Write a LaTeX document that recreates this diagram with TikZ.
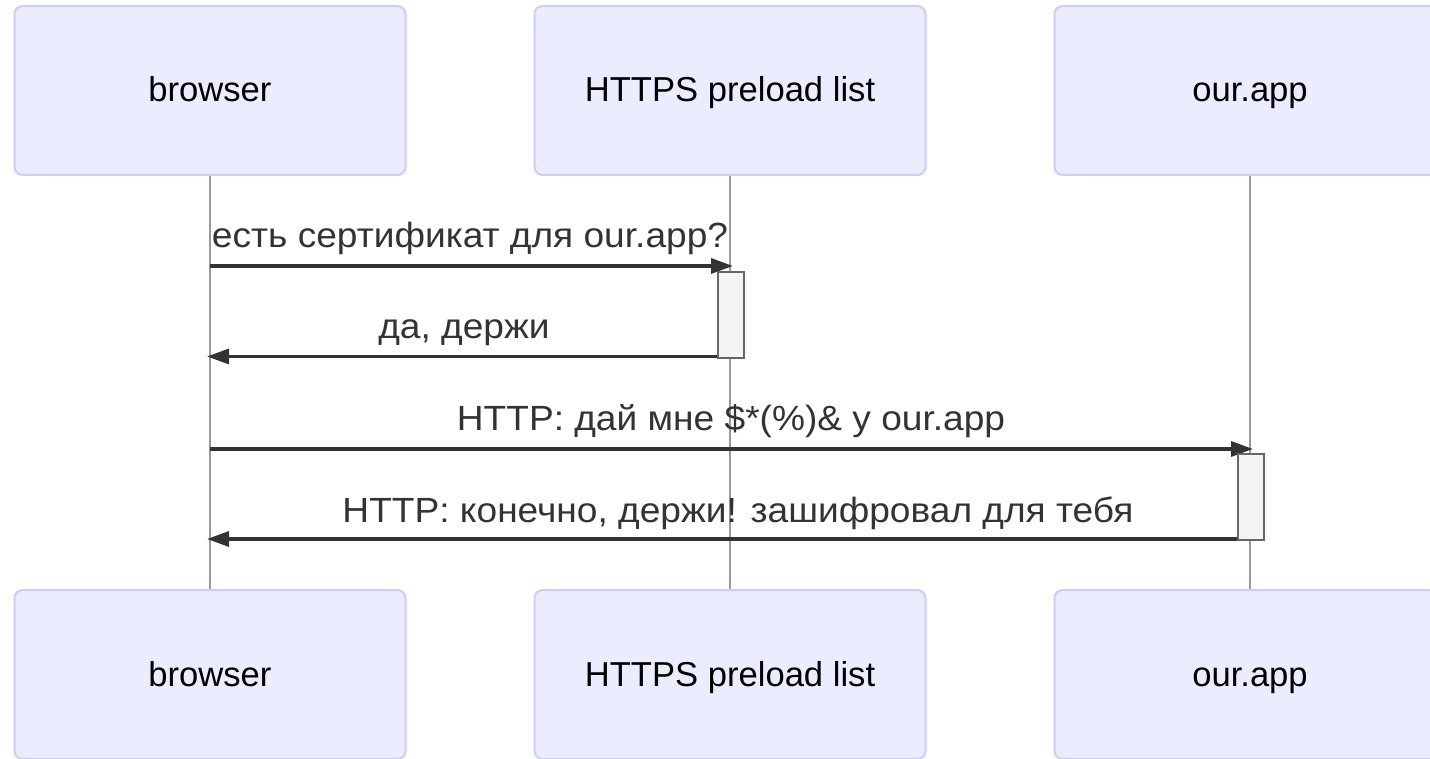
\documentclass[tikz,border=0pt]{standalone}
\usepackage{fontspec}
\setmainfont{Liberation Sans}
\newfontfamily\msgfont[FakeStretch=1.06]{Liberation Sans}
\usetikzlibrary{arrows.meta}
\definecolor{actorfill}{HTML}{ECECFF}
\definecolor{actorline}{HTML}{CCCCFF}
\definecolor{msgcol}{HTML}{333333}
\definecolor{lifecol}{HTML}{999999}
\definecolor{actfill}{HTML}{F4F4F4}
\definecolor{actline}{HTML}{666666}
\tikzset{
  actor/.style={draw=actorline, fill=actorfill, line width=2pt, rounded corners=8pt,
    minimum width=391pt, minimum height=169pt, inner sep=0pt,
    font=\fontsize{34.6}{40}\selectfont, text=black, text height=25pt, text depth=2pt},
  lifeline/.style={draw=lifecol, line width=1.3pt},
  msg/.style={draw=msgcol, line width=3.3pt, -{Triangle[length=22pt,width=15pt]}},
  msglabel/.style={anchor=base, inner sep=0pt, text=msgcol, font=\msgfont\fontsize{35}{40}\selectfont},
  activation/.style={draw=actline, fill=actfill, line width=2.4pt, inner sep=0pt,
    minimum width=26pt, anchor=north}
}
\begin{document}
\begin{tikzpicture}[x=1pt,y=-1pt]
  \useasboundingbox (0,0) rectangle (1430,759);
  \clip (0,0) rectangle (1430,759);

  % participants, top row
  \node[actor] (bt) at (210,90.5)  {browser};
  \node[actor] (ht) at (730,90.5)  {HTTPS preload list};
  \node[actor] (at) at (1250,90.5) {our.app};
  % participants, bottom row
  \node[actor] (bb) at (210,674.5)  {browser};
  \node[actor] (hb) at (730,674.5)  {HTTPS preload list};
  \node[actor] (ab) at (1250,674.5) {our.app};

  % lifelines
  \draw[lifeline] (bt.south) -- (bb.north);
  \draw[lifeline] (ht.south) -- (hb.north);
  \draw[lifeline] (at.south) -- (ab.north);

  % message end points
  \coordinate (m1s) at (210,266);
  \coordinate (m1e) at (733,266);
  \coordinate (m2s) at (718,356.5);
  \coordinate (m2e) at (207,356.5);
  \coordinate (m3s) at (210,449);
  \coordinate (m3e) at (1253,449);
  \coordinate (m4s) at (1238,539);
  \coordinate (m4e) at (207,539);

  % messages
  \draw[msg] (m1s) -- (m1e);
  \node[msglabel] (l1) at (470,248) {есть сертификат для our.app?};
  \draw[msg] (m2s) -- (m2e);
  \node[msglabel] (l2) at (464,338) {да, держи};
  \draw[msg] (m3s) -- (m3e);
  \node[msglabel] (l3) at (731,430) {HTTP: дай мне \$*(\%)\& у our.app};
  \draw[msg] (m4s) -- (m4e);
  \node[msglabel] (l4) at (738,522) {HTTP: конечно, держи! зашифровал для тебя};

  % activations
  \node[activation, minimum height=86pt] (a1) at (731,271) {};
  \node[activation, minimum height=86pt] (a2) at (1251,453) {};
\end{tikzpicture}
\end{document}
